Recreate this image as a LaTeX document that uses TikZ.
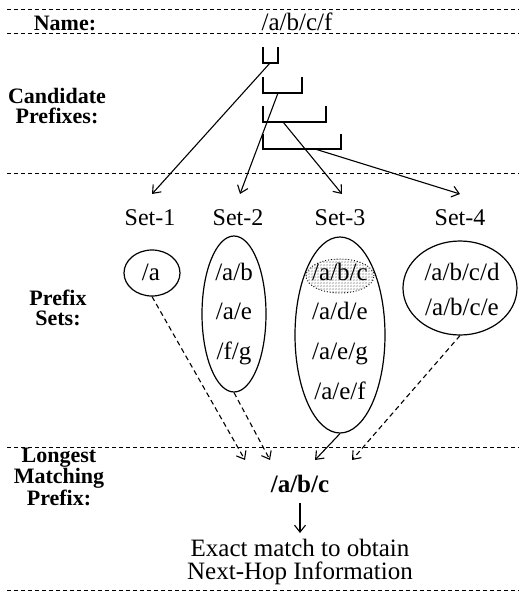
\documentclass[tikz,border=0pt]{standalone}
\usepackage{fontspec}
\setmainfont{Liberation Serif}
\usetikzlibrary{arrows.meta,shapes.geometric,patterns}
\begin{document}
\begin{tikzpicture}[x=1pt,y=-1pt,
 sep/.style={line width=0.8pt, dash pattern=on 4pt off 3pt},
 lbl/.style={font=\fontsize{22}{20}\selectfont\bfseries, align=center, anchor=base, inner sep=0pt},
 txt/.style={font=\fontsize{25}{30}\selectfont, anchor=base, inner sep=0pt},
 setlbl/.style={font=\fontsize{24}{28}\selectfont, anchor=base, inner sep=0pt},
 bracket/.style={line width=2pt},
 setbox/.style={draw, ellipse, line width=1.2pt, inner sep=0pt},
 arr/.style={line width=1.1pt, -{Straight Barb[length=7pt,width=11pt]}},
 darr/.style={arr, dash pattern=on 5pt off 3.5pt},
]
\useasboundingbox (0,0) rectangle (519,592);
% separators
\foreach \yy in {9,33,173,447,590} \draw[sep] (7,\yy) -- (519,\yy);
% left labels (base = last line)
\node[lbl] (lname) at (65,30) {Name:};
\node[lbl] (lcand) at (57,123) {Candidate\\Prefixes:};
\node[lbl] (lsets) at (58,325) {Prefix\\Sets:};
\node[lbl] (llong) at (59,505) {Longest\\Matching\\Prefix:};
% name
\node[txt] (name) at (297,30) {/a/b/c/f};
% brackets
\draw[bracket] (263,47) -- (263,63) -- (278,63) -- (278,47);
\draw[bracket] (263,77) -- (263,93) -- (302,93) -- (302,77);
\draw[bracket] (263,106) -- (263,122) -- (326,122) -- (326,106);
\draw[bracket] (263,134) -- (263,149) -- (341,149) -- (341,134);
\coordinate (b1) at (270,63);
\coordinate (b2) at (278,93);
\coordinate (b3) at (283,122);
\coordinate (b4) at (315,149);
\coordinate (t1) at (152,194);
\coordinate (t2) at (240,194);
\coordinate (t3) at (342,194);
\coordinate (t4) at (460,194);
\draw[arr] (b1) -- (t1);
\draw[arr] (b2) -- (t2);
\draw[arr] (b3) -- (t3);
\draw[arr] (b4) -- (t4);
% set labels
\node[setlbl] (s1) at (150,225) {Set-1};
\node[setlbl] (s2) at (238,225) {Set-2};
\node[setlbl] (s3) at (340,225) {Set-3};
\node[setlbl] (s4) at (460,225) {Set-4};
% highlight
\node[draw, ellipse, dotted, line width=0.9pt, pattern=crosshatch, pattern color=gray!55, minimum width=68pt, minimum height=34pt, inner sep=0pt] (hl) at (340,276) {};
% set ellipses
\node[setbox, minimum width=56pt, minimum height=46pt] (e1) at (152,273) {};
\node[setbox, minimum width=64pt, minimum height=156pt] (e2) at (234,314) {};
\node[setbox, minimum width=90pt, minimum height=196pt] (e3) at (340,335) {};
\node[setbox, minimum width=114pt, minimum height=94pt] (e4) at (460,288) {};
% set contents
\node[txt] (p11) at (151,280) {/a};
\node[txt] (p21) at (234,280) {/a/b};
\node[txt] (p22) at (234,319) {/a/e};
\node[txt] (p23) at (234,359) {/f/g};
\node[txt] (p31) at (340,280) {/a/b/c};
\node[txt] (p32) at (340,319) {/a/d/e};
\node[txt] (p33) at (340,359) {/a/e/g};
\node[txt] (p34) at (340,399) {/a/e/f};
\node[txt] (p41) at (462,280) {/a/b/c/d};
\node[txt] (p42) at (462,315) {/a/b/c/e};
% to result
\coordinate (d1) at (245,460);
\coordinate (d2) at (270,460);
\coordinate (d3) at (315,460);
\coordinate (d4) at (352,460);
\draw[darr] (e1.south) -- (d1);
\draw[darr] (e2.south) -- (d2);
\draw[arr] (e3.south) -- (d3);
\draw[darr] (e4.south) -- (d4);
\node[txt, font=\fontsize{25}{30}\selectfont\bfseries] (res) at (300,492) {/a/b/c};
\node[txt, font=\fontsize{25}{23}\selectfont, align=center] (ex) at (300,579) {Exact match to obtain\\Next-Hop Information};
\coordinate (ea) at (300,503);
\coordinate (eb) at (300,533);
\draw[arr] (ea) -- (eb);
\end{tikzpicture}
\end{document}
